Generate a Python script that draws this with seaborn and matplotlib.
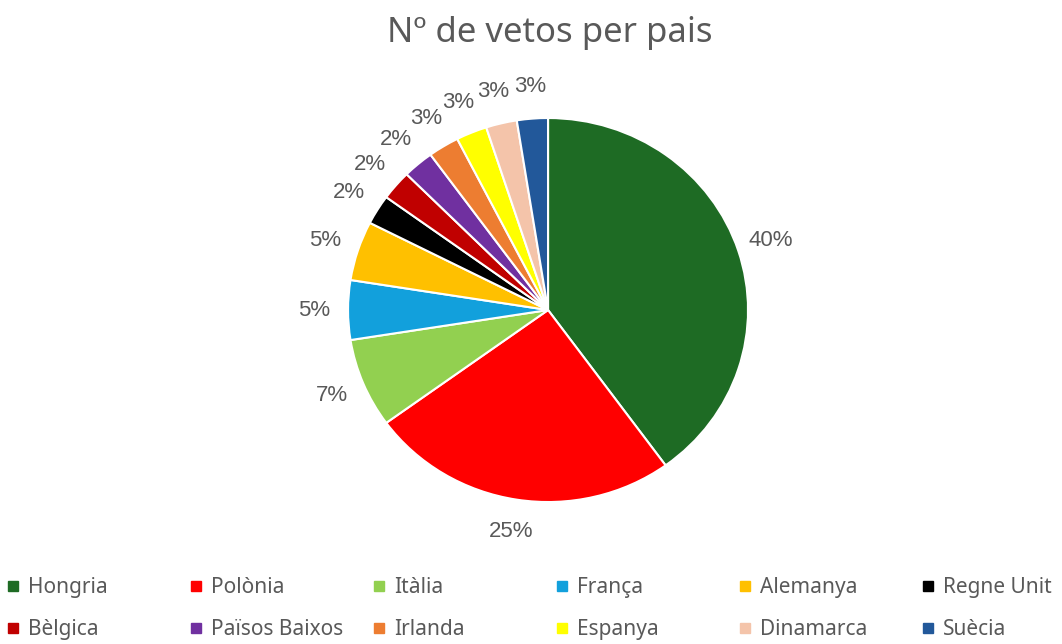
import numpy as np
import pandas as pd
import matplotlib.pyplot as plt
import seaborn as sns
from matplotlib.lines import Line2D

# dades del grafic
paisos = ["Hongria", "Polònia", "Itàlia", "França", "Alemanya", "Regne Unit",
          "Bèlgica", "Països Baixos", "Irlanda", "Espanya", "Dinamarca", "Suècia"]
vetos = [16, 10, 3, 2, 2, 1, 1, 1, 1, 1, 1, 1]
etiquetes = ["40%", "25%", "7%", "5%", "5%", "2%", "2%", "2%", "3%", "3%", "3%", "3%"]
colors = ["#1E6B24", "#FF0000", "#92D050", "#12A0DC", "#FFC000", "#000000",
          "#C00000", "#7030A0", "#ED7D31", "#FFFF00", "#F4C4AA", "#22589A"]

sns.set_theme(style="white")
plt.rcParams['font.family'] = ['Liberation Sans', 'DejaVu Sans']
gris = "#595959"

fig = plt.figure(figsize=(10.62, 6.44), dpi=100)
ax = fig.add_axes([0.2524, 0.1012, 0.5273, 0.8348])

wedges, texts = ax.pie(vetos, labels=etiquetes, colors=colors, startangle=90,
                       counterclock=False, labeldistance=1.17,
                       wedgeprops=dict(edgecolor="white", linewidth=1.5),
                       textprops=dict(color=gris, fontsize=16))
ax.set_aspect("auto")
ax.set_xlim(-1.4, 1.4)
ax.set_ylim(-1.4, 1.4)
for t in texts:
    t.set_ha("center")
    t.set_va("center")

fig.text(0.518, 1 - 33 / 644, "Nº de vetos per pais", ha="center", va="center",
         fontsize=25, color=gris, family=["Noto Sans", "DejaVu Sans"])

# llegenda: 6 columnes, 2 files
for i in range(6):
    handles = [Line2D([], [], marker="s", linestyle="", markersize=7,
                      color=colors[j]) for j in (i, i + 6)]
    fig.legend(handles=handles, labels=[paisos[i], paisos[i + 6]],
               loc="upper left", bbox_to_anchor=((6 + 183 * i) / 1062, 1 - 577 / 644),
               frameon=False, borderpad=0, borderaxespad=0, handlelength=0.7,
               handletextpad=0.35, labelspacing=1.02,
               prop=dict(family=["Noto Sans", "DejaVu Sans"], size=15),
               labelcolor=gris)

plt.savefig("out.png", dpi=100)
